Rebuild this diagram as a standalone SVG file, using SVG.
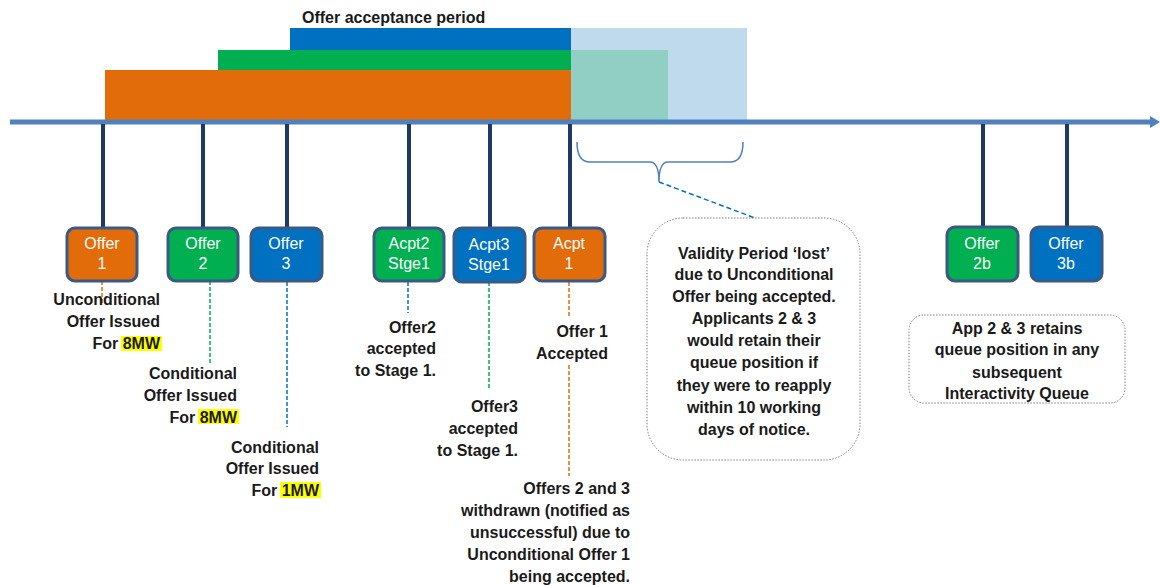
<svg xmlns="http://www.w3.org/2000/svg" width="1160" height="585" viewBox="0 0 1160 585">
<defs>
<style>
.lbl{font-family:"Liberation Sans",Arial,sans-serif;font-weight:bold;font-size:16px;fill:#1a1a1a}
.r{text-anchor:end}
.c{text-anchor:middle}
.bx{stroke:#3A5A85;stroke-width:3}
.bt{font-family:"Liberation Sans",Arial,sans-serif;font-size:16px;fill:#ffffff;text-anchor:middle}
.stem{stroke:#1F3864;stroke-width:4}
.dash{stroke-width:1.5;stroke-dasharray:4,2;fill:none}
.hl{fill:#FFFF00}
.note{fill:#ffffff;stroke:#7f7f7f;stroke-width:1;stroke-dasharray:1.5,1.5}
</style>
<marker id="ah" markerWidth="10" markerHeight="12" refX="0" refY="6" orient="auto" markerUnits="userSpaceOnUse">
<path d="M0,0 L10,6 L0,12 Z" fill="#4F81BD"/>
</marker>
</defs>
<rect width="1160" height="585" fill="#ffffff"/>

<g id="period-bars">
<rect x="571" y="28" width="176" height="94" fill="#BFD9ED"/>
<rect x="571" y="50" width="97" height="72" fill="#91CFC5"/>
<rect x="290" y="28" width="281" height="22" fill="#0070C0"/>
<rect x="218" y="50" width="353" height="20" fill="#00B050"/>
<rect x="105" y="70" width="466" height="52" fill="#E36C0A"/>
<text class="lbl" x="302" y="23">Offer acceptance period</text>
</g>

<g id="connectors">
<line x1="10" y1="122" x2="1150" y2="122" stroke="#4F81BD" stroke-width="5" marker-end="url(#ah)"/>
<line class="stem" x1="103" y1="124" x2="103" y2="228"/>
<line class="stem" x1="203" y1="124" x2="203" y2="228"/>
<line class="stem" x1="287" y1="124" x2="287" y2="228"/>
<line class="stem" x1="409" y1="124" x2="409" y2="228"/>
<line class="stem" x1="490" y1="124" x2="490" y2="228"/>
<line class="stem" x1="570" y1="124" x2="570" y2="228"/>
<line class="stem" x1="983" y1="124" x2="983" y2="228"/>
<line class="stem" x1="1067" y1="124" x2="1067" y2="228"/>
<line class="dash" stroke="#E36C0A" x1="102" y1="281" x2="102" y2="305"/>
<line class="dash" stroke="#00B050" x1="210" y1="281" x2="210" y2="363"/>
<line class="dash" stroke="#0070C0" x1="287" y1="282" x2="287" y2="427"/>
<line class="dash" stroke="#0070C0" x1="408" y1="282" x2="408" y2="313"/>
<line class="dash" stroke="#00B050" x1="489" y1="282" x2="489" y2="390"/>
<line class="dash" stroke="#E36C0A" x1="569" y1="282" x2="569" y2="318"/>
<line class="dash" stroke="#E36C0A" x1="569" y1="365" x2="569" y2="476"/>
<path d="M577,142 Q577,162 590,162 L650,162 Q659,162 659,182 Q659,162 668,162 L730,162 Q743,162 743,142" fill="none" stroke="#4F81BD" stroke-width="1.5"/>
<line x1="659" y1="182" x2="755" y2="218" stroke="#0070C0" stroke-width="1.5" stroke-dasharray="5,3"/>
</g>

<g id="offer1">
<rect class="bx" x="67" y="228" width="70" height="53" rx="8" fill="#E36C0A"/>
<text class="bt" x="102" y="249">Offer</text><text class="bt" x="102" y="269">1</text>
<rect class="hl" x="121" y="336" width="41" height="15"/>
<text class="lbl r" x="160" y="305">Unconditional</text>
<text class="lbl r" x="160" y="327">Offer Issued</text>
<text class="lbl r" x="160" y="349">For 8MW</text>
</g>

<g id="offer2">
<rect class="bx" x="168" y="228" width="70" height="53" rx="8" fill="#00B050"/>
<text class="bt" x="203" y="249">Offer</text><text class="bt" x="203" y="269">2</text>
<rect class="hl" x="198" y="409" width="41" height="15"/>
<text class="lbl r" x="237" y="379">Conditional</text>
<text class="lbl r" x="237" y="401">Offer Issued</text>
<text class="lbl r" x="237" y="423">For 8MW</text>
</g>

<g id="offer3">
<rect class="bx" x="251" y="228" width="71" height="53" rx="8" fill="#0070C0"/>
<text class="bt" x="286" y="249">Offer</text><text class="bt" x="286" y="269">3</text>
<rect class="hl" x="280" y="482" width="41" height="16"/>
<text class="lbl r" x="319" y="453">Conditional</text>
<text class="lbl r" x="319" y="474">Offer Issued</text>
<text class="lbl r" x="319" y="496">For 1MW</text>
</g>

<g id="acpt2">
<rect class="bx" x="374" y="228" width="70" height="53" rx="8" fill="#00B050"/>
<text class="bt" x="409" y="249">Acpt2</text><text class="bt" x="409" y="269">Stge1</text>
<text class="lbl r" x="436" y="333">Offer2</text>
<text class="lbl r" x="436" y="354">accepted</text>
<text class="lbl r" x="436" y="376">to Stage 1.</text>
</g>

<g id="acpt3">
<rect class="bx" x="454" y="228" width="71" height="54" rx="8" fill="#0070C0"/>
<text class="bt" x="489" y="250">Acpt3</text><text class="bt" x="489" y="270">Stge1</text>
<text class="lbl r" x="518" y="412">Offer3</text>
<text class="lbl r" x="518" y="434">accepted</text>
<text class="lbl r" x="518" y="456">to Stage 1.</text>
</g>

<g id="acpt1">
<rect class="bx" x="534" y="228" width="71" height="53" rx="8" fill="#E36C0A"/>
<text class="bt" x="569" y="249">Acpt</text><text class="bt" x="569" y="269">1</text>
<text class="lbl r" x="608" y="337">Offer 1</text>
<text class="lbl r" x="608" y="359">Accepted</text>
<text class="lbl r" x="630" y="494">Offers 2 and 3</text>
<text class="lbl r" x="630" y="516">withdrawn (notified as</text>
<text class="lbl r" x="630" y="538">unsuccessful) due to</text>
<text class="lbl r" x="630" y="560">Unconditional Offer 1</text>
<text class="lbl r" x="630" y="582">being accepted.</text>
</g>

<g id="validity-note">
<rect class="note" x="647" y="218" width="213" height="242" rx="36"/>
<text class="lbl c" x="754" y="259">Validity Period ‘lost’</text>
<text class="lbl c" x="754" y="280">due to Unconditional</text>
<text class="lbl c" x="754" y="302">Offer being accepted.</text>
<text class="lbl c" x="754" y="324">Applicants 2 &amp; 3</text>
<text class="lbl c" x="754" y="346">would retain their</text>
<text class="lbl c" x="754" y="368">queue position  if</text>
<text class="lbl c" x="754" y="391">they were to reapply</text>
<text class="lbl c" x="754" y="413">within 10 working</text>
<text class="lbl c" x="754" y="435">days of notice.</text>
</g>

<g id="offer2b">
<rect class="bx" x="947" y="227" width="71" height="54" rx="8" fill="#00B050"/>
<text class="bt" x="982" y="249">Offer</text><text class="bt" x="982" y="269">2b</text>
</g>

<g id="offer3b">
<rect class="bx" x="1031" y="227" width="71" height="54" rx="8" fill="#0070C0"/>
<text class="bt" x="1066" y="249">Offer</text><text class="bt" x="1066" y="269">3b</text>
</g>

<g id="queue-note">
<rect class="note" x="909" y="315" width="216" height="88" rx="15"/>
<text class="lbl c" x="1017" y="334">App 2 &amp; 3 retains</text>
<text class="lbl c" x="1017" y="355">queue position  in any</text>
<text class="lbl c" x="1017" y="378">subsequent</text>
<text class="lbl c" x="1017" y="399">Interactivity Queue</text>
</g>
</svg>
